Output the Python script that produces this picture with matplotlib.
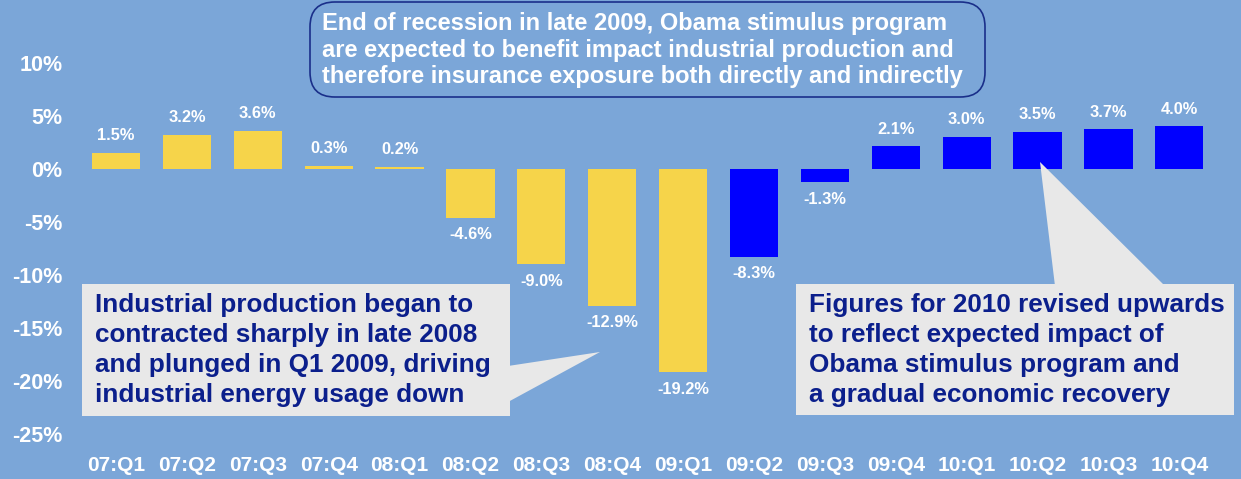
"""Quarterly industrial production growth with callouts."""

import matplotlib
matplotlib.use("Agg")
import matplotlib.pyplot as plt
from matplotlib.patches import FancyBboxPatch, Polygon, Rectangle

quarters = ["07:Q1", "07:Q2", "07:Q3", "07:Q4", "08:Q1", "08:Q2", "08:Q3", "08:Q4",
            "09:Q1", "09:Q2", "09:Q3", "09:Q4", "10:Q1", "10:Q2", "10:Q3", "10:Q4"]
growth = [1.5, 3.2, 3.6, 0.3, 0.2, -4.6, -9.0, -12.9,
          -19.2, -8.3, -1.3, 2.1, 3.0, 3.5, 3.7, 4.0]
forecast_from = 9  # 09:Q2 onward shown in blue
y_ticks = [10, 5, 0, -5, -10, -15, -20, -25]

BG = "#7BA6D8"
YELLOW = "#F6D44A"
BLUE = "#0000FF"
NAVY = "#0B1F8C"
BOX = "#E8E8E8"

W, H = 1241, 479
plt.rcParams["font.family"] = ["Liberation Sans", "DejaVu Sans"]
plt.rcParams["font.weight"] = "bold"

fig = plt.figure(figsize=(W / 100, H / 100), dpi=100, facecolor=BG)
ax = fig.add_axes([75 / W, 34 / H, 1 - 75 / W, 1 - 34 / H], facecolor=BG)


def px(x, y):
    # pixel coords (top-left origin) -> figure fraction
    return x / W, 1 - y / H


xs = list(range(len(quarters)))
colors = [YELLOW if i < forecast_from else BLUE for i in xs]
ax.bar(xs, growth, width=0.68, color=colors, zorder=2)

for x, v in zip(xs, growth):
    off = 1.6 if v >= 0 else -1.6
    ax.text(x, v + off, f"{v:.1f}%", ha="center", va="center",
            color="white", fontsize=11.8, fontweight="bold", zorder=3)

ax.set_xlim(-0.578, 15.87)
ax.set_ylim(-26.04, 15.9)
ax.set_xticks(xs)
ax.set_xticklabels(quarters)
ax.set_yticks(y_ticks)
ax.set_yticklabels([f"{t}%" for t in y_ticks])
ax.tick_params(axis="x", length=0, pad=8, labelsize=15, labelcolor="white")
ax.tick_params(axis="y", length=0, pad=9, labelsize=15.5, labelcolor="white")
for lbl in ax.get_xticklabels() + ax.get_yticklabels():
    lbl.set_fontweight("bold")
for s in ax.spines.values():
    s.set_visible(False)

# top note
x0, y0 = px(310, 97)
x1, y1 = px(985, 2)
fig.patches.append(FancyBboxPatch((x0, y0), x1 - x0, y1 - y0,
                                  boxstyle="round,pad=0,rounding_size=0.02",
                                  transform=fig.transFigure, facecolor=BG,
                                  edgecolor="#1A2F8A", linewidth=1.2, zorder=5,
                                  mutation_aspect=W / H))
fig.text(*px(322, 50),
         "End of recession in late 2009, Obama stimulus program\n"
         "are expected to benefit impact industrial production and\n"
         "therefore insurance exposure both directly and indirectly",
         color="white", fontsize=17, fontweight="bold", va="center",
         ha="left", linespacing=1.17, zorder=6)

# left callout
tri_l = [px(508, 366), px(600, 352), px(508, 402)]
fig.patches.append(Polygon(tri_l, closed=True, transform=fig.transFigure,
                           facecolor=BOX, edgecolor="none", zorder=5))
bx0, by0 = px(82, 416)
bx1, by1 = px(510, 284)
fig.patches.append(Rectangle((bx0, by0), bx1 - bx0, by1 - by0,
                             transform=fig.transFigure, facecolor=BOX,
                             edgecolor="none", zorder=5))
fig.text(*px(95, 350),
         "Industrial production began to\n"
         "contracted sharply in late 2008\n"
         "and plunged in Q1 2009, driving\n"
         "industrial energy usage down",
         color=NAVY, fontsize=18.8, fontweight="bold", va="center",
         ha="left", linespacing=1.33, zorder=6)

# right callout
tri_r = [px(1055, 286), px(1040, 162), px(1165, 286)]
fig.patches.append(Polygon(tri_r, closed=True, transform=fig.transFigure,
                           facecolor=BOX, edgecolor="none", zorder=5))
rx0, ry0 = px(796, 415)
rx1, ry1 = px(1234, 284)
fig.patches.append(Rectangle((rx0, ry0), rx1 - rx0, ry1 - ry0,
                             transform=fig.transFigure, facecolor=BOX,
                             edgecolor="none", zorder=5))
fig.text(*px(809, 350),
         "Figures for 2010 revised upwards\n"
         "to reflect expected impact of\n"
         "Obama stimulus program and\n"
         "a gradual economic recovery",
         color=NAVY, fontsize=18.8, fontweight="bold", va="center",
         ha="left", linespacing=1.33, zorder=6)

fig.savefig("out.png", dpi=100, facecolor=BG)
